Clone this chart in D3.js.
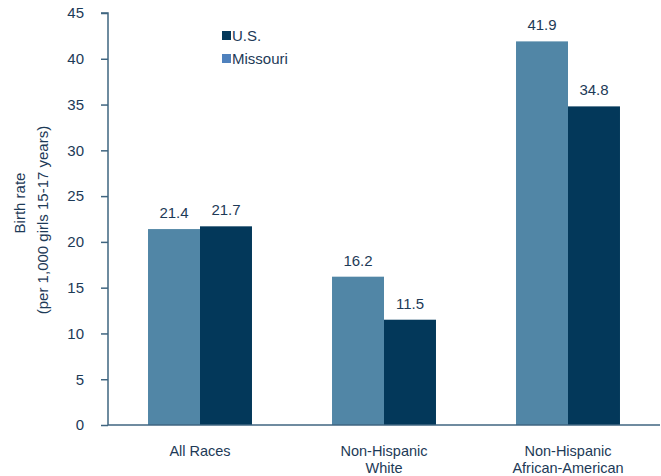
<!DOCTYPE html>
<html><head><meta charset="utf-8">
<script src="https://cdn.jsdelivr.net/npm/d3@7"></script>
<style>body{margin:0;background:#fff}svg text{font-family:"Liberation Sans",Arial,sans-serif;fill:#1d3a57}</style>
</head><body><svg id="c" width="661" height="476"></svg>
<script>
const categories = [["All Races"], ["Non-Hispanic", "White"], ["Non-Hispanic", "African-American"]];
const seriesNames = ["Missouri", "U.S."];
const missouri = [21.4, 16.2, 41.9];
const us = [21.7, 11.5, 34.8];
const yTicks = [0, 5, 10, 15, 20, 25, 30, 35, 40, 45];
const legendOrder = ["U.S.", "Missouri"];

const barColors = {"Missouri": "#5186a6", "U.S.": "#03385a"};
const legendColors = {"Missouri": "#4f81bd", "U.S.": "#03385a"};
const axisColor = "#3f6580";

const svg = d3.select("#c");
const mLeft = 108, mRight = 660, mTop = 13, mBottom = 425;
const x0 = d3.scaleBand().domain(d3.range(categories.length)).range([mLeft, mRight]).paddingInner(0.435).paddingOuter(0.2175);
const x1 = d3.scaleBand().domain(seriesNames).range([0, x0.bandwidth()]);
const y = d3.scaleLinear().domain([0, 45]).range([mBottom, mTop]);
const vals = {"Missouri": missouri, "U.S.": us};

// bars
categories.forEach((c, i) => {
  seriesNames.forEach(s => {
    const v = vals[s][i];
    svg.append("rect").attr("x", x0(i) + x1(s)).attr("y", y(v))
      .attr("width", x1.bandwidth()).attr("height", y(0) - y(v))
      .attr("fill", barColors[s]);
    svg.append("text").attr("x", x0(i) + x1(s) + x1.bandwidth() / 2).attr("y", y(v) - 11)
      .attr("text-anchor", "middle").attr("font-size", 15).text(v.toFixed(1));
  });
});

// y axis
const yAxis = d3.axisLeft(y).tickValues(yTicks).tickSize(7).tickPadding(17);
const gy = svg.append("g").attr("transform", `translate(${mLeft},0)`).call(yAxis);
gy.select(".domain").attr("stroke", axisColor).attr("stroke-width", 1.5).attr("d", `M-7,${mTop}H0V${mBottom}`);
gy.selectAll(".tick line").attr("stroke", axisColor).attr("stroke-width", 1.5);
gy.selectAll(".tick text").attr("font-size", 15).style("font-family", '"Liberation Sans",Arial,sans-serif').attr("fill", "#1d3a57");

// x axis
svg.append("line").attr("x1", mLeft).attr("x2", mRight).attr("y1", mBottom).attr("y2", mBottom)
  .attr("stroke", axisColor).attr("stroke-width", 1.5);
categories.forEach((lines, i) => {
  const t = svg.append("text").attr("x", x0(i) + x0.bandwidth() / 2).attr("y", 456)
    .attr("text-anchor", "middle").attr("font-size", 14.5);
  lines.forEach((l, j) => t.append("tspan").attr("x", x0(i) + x0.bandwidth() / 2).attr("dy", j ? 17 : 0).text(l));
});

// y title
svg.append("text").attr("transform", "translate(25,203) rotate(-90)").attr("text-anchor", "middle").attr("font-size", 15).text("Birth rate");
svg.append("text").attr("transform", "translate(48,220) rotate(-90)").attr("text-anchor", "middle").attr("font-size", 15).text("(per 1,000 girls 15-17 years)");

// legend
legendOrder.forEach((s, k) => {
  const yy = 31 + k * 23;
  svg.append("rect").attr("x", 222).attr("y", yy).attr("width", 9).attr("height", 9).attr("fill", legendColors[s]);
  svg.append("text").attr("x", 232).attr("y", yy + 10).attr("font-size", 15).text(s);
});
</script></body></html>
